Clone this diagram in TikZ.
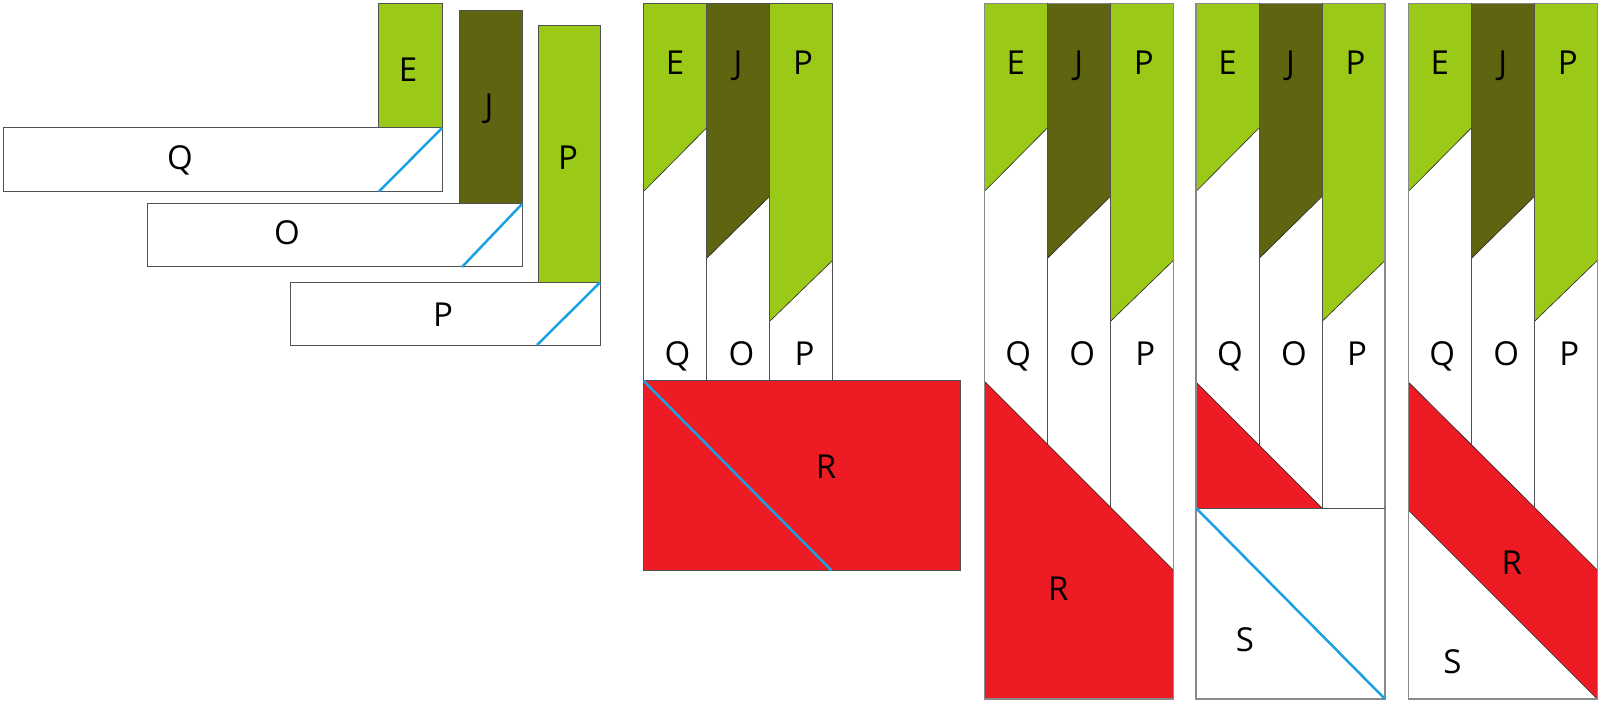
\documentclass[tikz,border=0pt]{standalone}
\usepackage{fontspec}
\setmainfont{Open Sans}
\definecolor{grn}{HTML}{9BC918}
\definecolor{olv}{HTML}{5F6410}
\definecolor{rd}{HTML}{ED1C24}
\definecolor{bl}{HTML}{1BA1E2}
\definecolor{edgec}{HTML}{505050}
\definecolor{lightedge}{HTML}{8A8A8A}
\tikzset{
  lab/.style={font=\fontsize{33}{33}\selectfont, inner sep=0pt, text height=23.5pt, text depth=0pt, anchor=center},
  box/.style={draw=edgec, line width=1pt},
  outer/.style={draw=lightedge, line width=1.2pt},
  cut/.style={draw=bl, line width=2.5pt},
  slant/.style={draw=black!85, line width=0.6pt},
}
\newcommand\stripes[1]{%
  \fill[grn] (0,3.5) -- (63,3.5) -- (63,128) -- (0,191.5) -- cycle;
  \draw[slant] (63,128) -- (0,191.5);
  \fill[olv] (63,3.5) -- (126,3.5) -- (126,196.5) -- (63,258.5) -- cycle;
  \draw[slant] (126,196.5) -- (63,258.5);
  \fill[grn] (126,3.5) -- (189,3.5) -- (189,260.5) -- (126,321.5) -- cycle;
  \draw[slant] (189,260.5) -- (126,321.5);
  \node[lab] (#1E) at (31.5,63) {E};
  \node[lab] (#1J) at (94.5,63) {J};
  \node[lab] (#1P) at (159.5,63) {P};
  \node[lab] (#1Q) at (34,354) {Q};
  \node[lab] (#1O) at (98,354) {O};
  \node[lab] (#1Pb) at (161,354) {P};
}
\begin{document}
\begin{tikzpicture}[x=1pt,y=-1pt]
\useasboundingbox (0,0) rectangle (1600,703);

% ---------- panel 1 ----------
\draw[box, fill=grn] (378,3.5) rectangle (442,128);
\draw[box, fill=white] (3,128) rectangle (442,191.5);
\draw[cut] (379,191.5) -- (442,128);
\draw[box, fill=olv] (459,11) rectangle (522,204);
\draw[box, fill=white] (147,204) rectangle (522,267);
\draw[cut] (462,267) -- (522,204);
\draw[box, fill=grn] (538,25.5) rectangle (600,282.5);
\draw[box, fill=white] (290,282.5) rectangle (600,345);
\draw[cut] (537,345) -- (600,282.5);
\node[lab] (aE) at (408,70) {E};
\node[lab] (aJ) at (489,106) {J};
\node[lab] (aPbar) at (568,158) {P};
\node[lab] (aQ) at (180,158) {Q};
\node[lab] (aO) at (287,233) {O};
\node[lab] (aP) at (443,315) {P};

% ---------- panel 2 ----------
\begin{scope}[shift={(643.5,0)}]
  \stripes{b}
  \draw[box] (0,3.5) rectangle (189,380.7);
  \draw[box] (63,3.5) -- (63,380.7);
  \draw[box] (126,3.5) -- (126,380.7);
  \draw[box, fill=rd] (0,380.7) rectangle (316.5,570.4);
  \draw[cut] (0,380.7) -- (188,570.4);
  \node[lab] (bR) at (182.5,467) {R};
\end{scope}

% ---------- panel 3 ----------
\begin{scope}[shift={(984.3,0)}]
  \stripes{c}
  \fill[rd] (0,381) -- (189,570) -- (189,699) -- (0,699) -- cycle;
  \draw[slant] (0,381) -- (189,570);
  \draw[outer] (0,3.5) rectangle (189,699);
  \draw[box] (63,3.5) -- (63,444);
  \draw[box] (126,3.5) -- (126,507);
  \node[lab] (cR) at (74,589) {R};
\end{scope}

% ---------- panel 4 ----------
\begin{scope}[shift={(1196,0)}]
  \stripes{d}
  \fill[rd] (0,382) -- (126,508) -- (0,508) -- cycle;
  \draw[slant] (0,382) -- (126,508);
  \draw[outer] (0,3.5) rectangle (189,699);
  \draw[box] (0,508) -- (189,508);
  \draw[box] (63,3.5) -- (63,445);
  \draw[box] (126,3.5) -- (126,508);
  \draw[cut] (0,508) -- (189,699);
  \node[lab] (dS) at (49,640) {S};
\end{scope}

% ---------- panel 5 ----------
\begin{scope}[shift={(1408.3,0)}]
  \stripes{e}
  \fill[rd] (0,382) -- (189,570) -- (189,699) -- (0,510) -- cycle;
  \draw[slant] (0,382) -- (189,570);
  \draw[slant] (0,510) -- (189,699);
  \draw[outer] (0,3.5) rectangle (189,699);
  \draw[box] (63,3.5) -- (63,445);
  \draw[box] (126,3.5) -- (126,508);
  \node[lab] (eR) at (103.5,563) {R};
  \node[lab] (eS) at (44,662) {S};
\end{scope}
\end{tikzpicture}
\end{document}
